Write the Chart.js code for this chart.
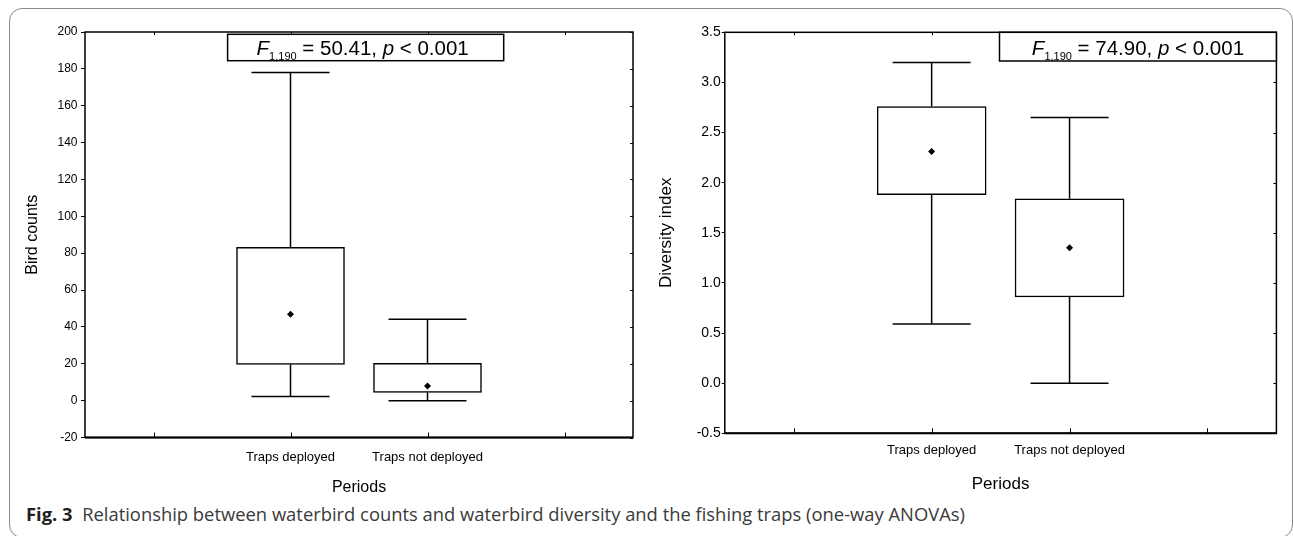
<!DOCTYPE html>
<html>
<head>
<meta charset="utf-8">
<script src="https://cdn.jsdelivr.net/npm/chart.js@4.4.1/dist/chart.umd.min.js"></script>
<style>
  html, body { margin:0; padding:0; background:#fff; }
  body { width:1293px; height:536px; overflow:hidden; position:relative; }
  #frame { position:absolute; left:9px; top:8px; width:1284px; height:530px; box-sizing:border-box;
           border:1px solid #8a8a8a; border-radius:13px; }
  .wrap { position:absolute; top:0; height:500px; }
  #caption { position:absolute; left:26px; top:502px; white-space:nowrap; font-family:'Open Sans','Noto Sans',sans-serif;
             font-size:17.5px; font-weight:400; color:#3a3a3a; transform-origin:0 0; }
  #caption b { color:#231f20; font-weight:700; }
</style>
</head>
<body>
<div id="frame"></div>
<div class="wrap" style="left:0;width:645px"><canvas id="c1"></canvas></div>
<div class="wrap" style="left:645px;width:648px"><canvas id="c2"></canvas></div>
<div id="caption"><b>Fig. 3</b>&nbsp;&nbsp;Relationship between waterbird counts and waterbird diversity and the fishing traps (one-way ANOVAs)</div>
<script>
// ---------- data ----------
const categories = ['Traps deployed', 'Traps not deployed'];
const xTitle = 'Periods';

// Bird counts
const countsWhiskerLow  = [2.2, 0];
const countsQ1          = [19.7, 4.5];
const countsMean        = [46.9, 7.9];
const countsQ3          = [83.2, 20.2];
const countsWhiskerHigh = [178, 44.2];
const countsTicks       = [-20, 0, 20, 40, 60, 80, 100, 120, 140, 160, 180, 200];
const countsStat        = ['1,190', '50.41', '0.001'];

// Diversity index
const divWhiskerLow  = [0.59, 0.0];
const divQ1          = [1.88, 0.86];
const divMean        = [2.31, 1.35];
const divQ3          = [2.76, 1.84];
const divWhiskerHigh = [3.2, 2.65];
const divTicks       = [-0.5, 0.0, 0.5, 1.0, 1.5, 2.0, 2.5, 3.0, 3.5];
const divStat        = ['1,190', '74.90', '0.001'];

// ---------- helpers ----------
Chart.defaults.font.family = "'Liberation Sans', Arial, sans-serif";
Chart.defaults.color = '#000';

const FONT = "'Liberation Sans', Arial, sans-serif";

const boxPlugin = {
  id: 'boxExtras',
  afterDatasetsDraw(chart, args, o) {
    const ctx = chart.ctx;
    const x = chart.scales.x, y = chart.scales.y;
    const ca = chart.chartArea;
    ctx.save();
    ctx.strokeStyle = '#000';
    ctx.lineWidth = 1.5;
    // whiskers
    o.low.forEach((lo, i) => {
      const px = x.getPixelForValue(i + 1);
      const pairs = [[o.q3[i], o.high[i]], [o.q1[i], lo]];
      pairs.forEach(([from, to]) => {
        const a = y.getPixelForValue(from), b = y.getPixelForValue(to);
        ctx.beginPath(); ctx.moveTo(px, a); ctx.lineTo(px, b); ctx.stroke();
        ctx.beginPath(); ctx.moveTo(px - o.cap, b); ctx.lineTo(px + o.cap, b); ctx.stroke();
      });
    });
    // frame
    ctx.lineWidth = 1.5;
    ctx.strokeRect(ca.left, ca.top, ca.right - ca.left, ca.bottom - ca.top);
    ctx.lineWidth = 2;
    ctx.beginPath(); ctx.moveTo(ca.left, ca.bottom); ctx.lineTo(ca.right, ca.bottom); ctx.stroke();
    // inward ticks
    ctx.lineWidth = 1;
    for (let i = 0; i < x.getLabels().length; i++) {
      const px = Math.round(x.getPixelForValue(i)) + 0.5;
      ctx.beginPath(); ctx.moveTo(px, ca.top); ctx.lineTo(px, ca.top + 3); ctx.stroke();
      ctx.beginPath(); ctx.moveTo(px, ca.bottom); ctx.lineTo(px, ca.bottom - 5); ctx.stroke();
    }
    y.ticks.forEach(t => {
      const py = Math.round(y.getPixelForValue(t.value)) + 0.5;
      ctx.beginPath(); ctx.moveTo(ca.right, py); ctx.lineTo(ca.right - 3, py); ctx.stroke();
    });
    // stat box
    const bx = o.stat.box;
    const L = bx[0], T = bx[1], R = bx[2] === null ? ca.right : bx[2], B = bx[3];
    ctx.fillStyle = '#fff';
    ctx.fillRect(L, T, R - L, B - T);
    ctx.lineWidth = 1.5;
    ctx.strokeRect(L, T, R - L, B - T);
    const big = o.stat.size, small = o.stat.sub;
    const parts = [
      {t: 'F', f: 'italic ' + big + 'px ' + FONT, dy: 0},
      {t: o.stat.text[0], f: small + 'px ' + FONT, dy: 5},
      {t: ' = ' + o.stat.text[1] + ', ', f: big + 'px ' + FONT, dy: 0},
      {t: 'p', f: 'italic ' + big + 'px ' + FONT, dy: 0},
      {t: ' < ' + o.stat.text[2], f: big + 'px ' + FONT, dy: 0}
    ];
    let w = 0;
    parts.forEach(p => { ctx.font = p.f; p.w = ctx.measureText(p.t).width; w += p.w; });
    let cx = (L + R) / 2 - w / 2 + o.stat.dx;
    const base = o.stat.base;
    ctx.fillStyle = '#000';
    ctx.textBaseline = 'alphabetic';
    ctx.textAlign = 'left';
    parts.forEach(p => { ctx.font = p.f; ctx.fillText(p.t, cx, base + p.dy); cx += p.w; });
    ctx.restore();
  }
};

function makeChart(id, cfg) {
  const labels = [''].concat(categories, ['']);
  const pad = v => [null].concat(v, [null]);
  return new Chart(document.getElementById(id), {
    type: 'bar',
    data: {
      labels: labels,
      datasets: [
        {
          type: 'bar',
          data: pad(cfg.q1.map((v, i) => [v, cfg.q3[i]])),
          backgroundColor: '#fff',
          borderColor: '#000',
          borderWidth: 1.5,
          borderSkipped: false,
          barThickness: cfg.barW,
          order: 2
        },
        {
          type: 'line',
          data: pad(cfg.mean),
          showLine: false,
          pointStyle: 'rectRot',
          pointRadius: 3.5,
          pointBackgroundColor: '#000',
          pointBorderColor: '#000',
          pointBorderWidth: 0,
          order: 1
        }
      ]
    },
    options: {
      responsive: true,
      maintainAspectRatio: false,
      animation: false,
      events: [],
      layout: { padding: { top: cfg.top, right: cfg.right, left: 0, bottom: 0 } },
      plugins: {
        legend: { display: false },
        tooltip: { enabled: false },
        boxExtras: {
          low: cfg.low, q1: cfg.q1, q3: cfg.q3, high: cfg.high, cap: 39,
          stat: cfg.stat
        }
      },
      scales: {
        x: {
          type: 'category',
          offset: true,
          grid: { display: false, drawTicks: false },
          border: { display: false },
          ticks: { font: { size: 13 }, color: '#000', padding: cfg.xPad, autoSkip: false, maxRotation: 0 },
          title: { display: true, text: xTitle, font: { size: cfg.xTitleSize }, color: '#000',
                   padding: { top: 0, bottom: cfg.xTitlePad } },
          afterFit: s => { s.height = cfg.xH; }
        },
        y: {
          type: 'linear',
          min: cfg.ticks[0],
          max: cfg.ticks[cfg.ticks.length - 1],
          afterBuildTicks: s => { s.ticks = cfg.ticks.map(v => ({ value: v })); },
          grid: { display: true, drawOnChartArea: false, drawTicks: true, tickLength: cfg.tickLen, color: '#000', lineWidth: 1 },
          border: { display: false },
          ticks: { font: { size: cfg.yFont }, color: '#000', padding: cfg.yPad,
                   callback: v => cfg.fmt(v) },
          title: { display: true, text: cfg.yTitle, font: { size: cfg.yTitleSize }, color: '#000',
                   padding: { top: cfg.yTitlePad, bottom: 0 } },
          afterFit: s => { s.width = cfg.yW; }
        }
      }
    },
    plugins: [boxPlugin]
  });
}

makeChart('c1', {
  low: countsWhiskerLow, q1: countsQ1, mean: countsMean, q3: countsQ3, high: countsWhiskerHigh,
  ticks: countsTicks, fmt: v => String(v),
  yTitle: 'Bird counts', yTitleSize: 16, yTitlePad: 22.7, yFont: 12, yPad: 3.5, tickLen: 4,
  yW: 85, top: 32, right: 12, xH: 62.5, xPad: 11.7, xTitleSize: 16, xTitlePad: 2.9, barW: 108,
  stat: { box: [227.6, 34.3, 503.7, 60.7], text: countsStat, size: 20.5, sub: 11, base: 54.5, dx: -3 }
});

makeChart('c2', {
  low: divWhiskerLow, q1: divQ1, mean: divMean, q3: divQ3, high: divWhiskerHigh,
  ticks: divTicks, fmt: v => v.toFixed(1),
  yTitle: 'Diversity index', yTitleSize: 17, yTitlePad: 11.5, yFont: 14, yPad: 1, tickLen: 3,
  yW: 79.8, top: 32.3, right: 16.6, xH: 66.7, xPad: 8.9, xTitleSize: 17, xTitlePad: 5.8, barW: 109,
  stat: { box: [354.5, 32.3, null, 61], text: divStat, size: 20.5, sub: 11, base: 55, dx: 0 }
});

// fit caption width to reference
(function () {
  const c = document.getElementById('caption');
  const w = c.getBoundingClientRect().width;
  c.style.transform = 'scaleX(' + (939 / w) + ')';
})();
</script>
</body>
</html>
